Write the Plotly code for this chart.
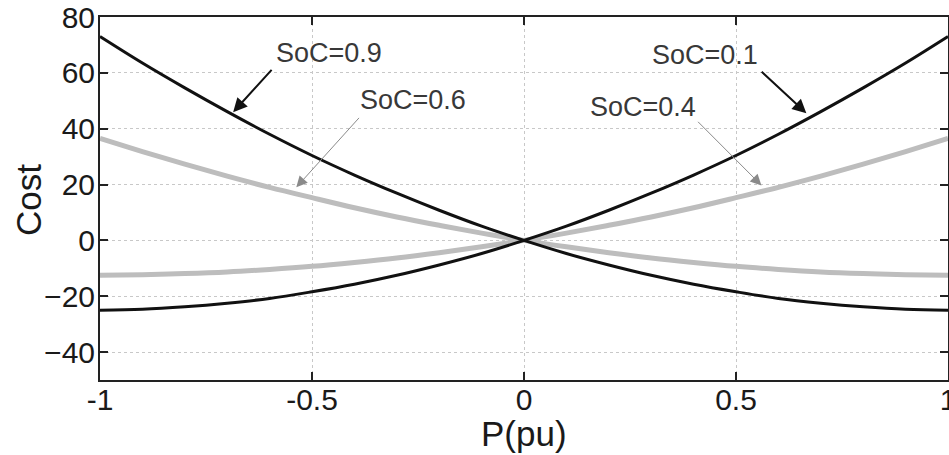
import plotly.graph_objects as go

# Power set-point (per unit)
p_pu = [-1.0, -0.9, -0.8, -0.7, -0.6, -0.5, -0.4, -0.3, -0.2, -0.1, 0.0,
        0.1, 0.2, 0.3, 0.4, 0.5, 0.6, 0.7, 0.8, 0.9, 1.0]

# Cost curves for each state of charge
cost_soc01 = [-25.0, -24.7, -23.8, -22.5, -20.8, -18.4, -15.7, -12.5, -8.8, -4.7, 0.0,
              5.1, 10.8, 16.9, 23.4, 30.4, 38.0, 46.1, 54.6, 63.5, 73.0]
cost_soc04 = [-12.5, -12.3, -11.9, -11.3, -10.4, -9.3, -7.9, -6.3, -4.4, -2.3, 0.0,
              2.6, 5.4, 8.4, 11.7, 15.3, 19.0, 23.0, 27.3, 31.8, 36.5]
cost_soc06 = [36.5, 31.8, 27.3, 23.0, 19.0, 15.3, 11.7, 8.4, 5.4, 2.6, 0.0,
              -2.3, -4.4, -6.3, -7.9, -9.3, -10.4, -11.3, -11.9, -12.3, -12.5]
cost_soc09 = [73.0, 63.5, 54.6, 46.1, 38.0, 30.4, 23.4, 16.9, 10.8, 5.1, 0.0,
              -4.7, -8.8, -12.5, -15.7, -18.4, -20.8, -22.5, -23.8, -24.7, -25.0]

x_ticks = [-1, -0.5, 0, 0.5, 1]
x_tick_text = ["-1", "-0.5", "0", "0.5", "1"]
y_ticks = [-40, -20, 0, 20, 40, 60, 80]

FONT = "Liberation Sans, Arial, sans-serif"
BLACK = "#111111"
GREY = "#bdbdbd"
TEXT = "#1a1a1a"

W, H = 949, 455
M_L, M_R, M_T, M_B = 100, 1, 17, 75
PLOT_W = W - M_L - M_R
PLOT_H = H - M_T - M_B

fig = go.Figure()
for y, col, w in [(cost_soc04, GREY, 5), (cost_soc06, GREY, 5),
                  (cost_soc01, BLACK, 3), (cost_soc09, BLACK, 3)]:
    fig.add_trace(go.Scatter(x=p_pu, y=y, mode="lines",
                             line=dict(color=col, width=w, shape="spline", smoothing=1.0),
                             showlegend=False, hoverinfo="skip"))

# Curve labels
labels = [
    ("SoC=0.9", -0.461, 67.0),
    ("SoC=0.6", -0.261, 50.2),
    ("SoC=0.1", 0.428, 66.3),
    ("SoC=0.4", 0.281, 47.7),
]
for text, lx, ly in labels:
    fig.add_annotation(x=lx, y=ly, text=text, showarrow=False,
                       font=dict(family=FONT, size=27, color="#383838"),
                       xanchor="center", yanchor="middle")

# Pointer arrows: (tip x, tip y, tail x, tail y, colour, width)
arrows = [
    (-0.686, 45.9, -0.592, 61.6, BLACK, 2),
    (-0.537, 19.0, -0.386, 44.4, "#8a8a8a", 1),
    (0.666, 45.5, 0.557, 60.9, BLACK, 2),
    (0.560, 19.7, 0.407, 43.0, "#8a8a8a", 1),
]
for tx, ty, ax, ay, col, w in arrows:
    fig.add_annotation(x=tx, y=ty, ax=ax, ay=ay, xref="x", yref="y",
                       axref="x", ayref="y", text="", showarrow=True,
                       arrowhead=2, arrowsize=1.4 if w == 2 else 2.2,
                       arrowwidth=w, arrowcolor=col)

# Axis titles, positioned relative to the plot area
fig.add_annotation(text="P(pu)", x=0.5, xref="paper",
                   y=-(433 - (H - M_B)) / PLOT_H, yref="paper",
                   showarrow=False, font=dict(family=FONT, size=35, color=TEXT),
                   xanchor="center", yanchor="middle")
fig.add_annotation(text="Cost", x=-(M_L - 28) / PLOT_W, xref="paper",
                   y=(H - M_B - 200) / PLOT_H, yref="paper", textangle=-90,
                   showarrow=False, font=dict(family=FONT, size=35, color=TEXT),
                   xanchor="center", yanchor="middle")

axis_common = dict(
    showline=True, linecolor="#222222", linewidth=2, mirror="allticks",
    ticks="inside", ticklen=8, tickwidth=2, tickcolor="#222222",
    showgrid=True, gridcolor="#c8c8c8", gridwidth=1, griddash="dot",
    zeroline=False, ticklabeloverflow="allow", automargin=False,
    tickfont=dict(family=FONT, size=30, color=TEXT),
)

fig.update_xaxes(range=[-1, 1], tickvals=x_ticks, ticktext=x_tick_text,
                 ticklabelstandoff=-8, **axis_common)
fig.update_yaxes(range=[-50, 80], tickvals=y_ticks, ticklabelstandoff=-3,
                 **axis_common)

fig.update_layout(
    width=W, height=H,
    margin=dict(l=M_L, r=M_R, t=M_T, b=M_B),
    paper_bgcolor="white", plot_bgcolor="white",
)

fig.write_html("out.html")
